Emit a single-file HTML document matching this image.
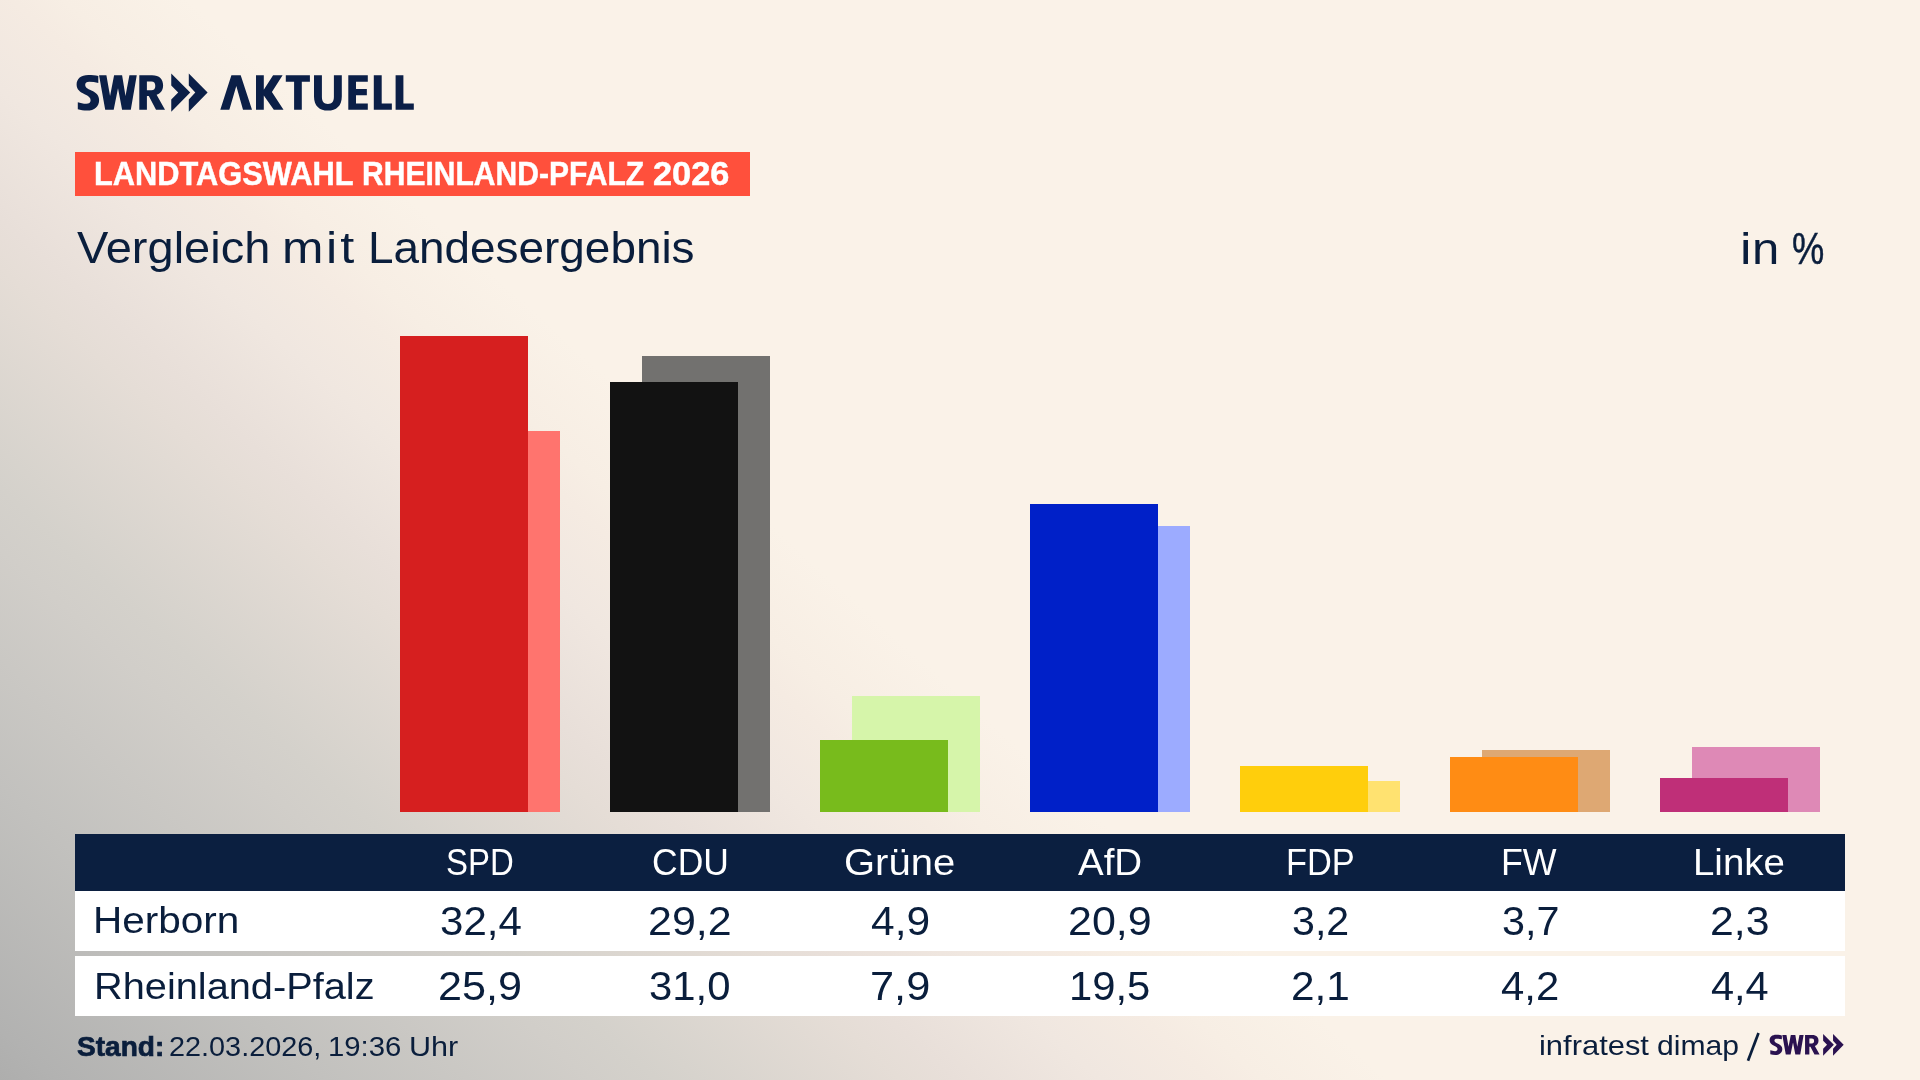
<!DOCTYPE html>
<html lang="de">
<head>
<meta charset="utf-8">
<title>SWR Aktuell – Landtagswahl Rheinland-Pfalz 2026 – Vergleich mit Landesergebnis</title>
<style>
  html, body { margin: 0; padding: 0; }
  body {
    width: 1920px; height: 1080px; overflow: hidden; position: relative;
    font-family: "Liberation Sans", sans-serif;
    color: #0a1e3c;
    background: linear-gradient(42deg,
      #aeaead 0px,
      #b2b2b1 38px,
      #c2c1be 219px,
      #d1cec9 395px,
      #d4d1cb 440px,
      #e5ddd6 603px,
      #e8dfd9 640px,
      #f0e7e0 737px,
      #f5ebe2 811px,
      #f7eee4 845px,
      #faf2e8 929px,
      #faf2e8 100%);
  }
  .box { position: absolute; }
  .bar { position: absolute; width: 128px; }
  .w { position: absolute; white-space: nowrap; line-height: 1; transform-origin: 0 0; display: block; }
  #txt { position: absolute; left: 0; top: 0; width: 1920px; height: 1080px; will-change: transform; }
  svg { position: absolute; left: 0; top: 0; overflow: visible; }
  #banner { left: 75px; top: 152px; width: 675px; height: 44.4px; background: #ff503c; }
  #thead { left: 75px; top: 834px; width: 1770px; height: 57px; background: #0b1f40; }
  #row1  { left: 75px; top: 891px; width: 1770px; height: 60px; background: #ffffff; }
  #row2  { left: 75px; top: 956px; width: 1770px; height: 60px; background: #ffffff; }
</style>
</head>
<body>

<!-- logo: SWR>> AKTUELL -->
<svg width="1920" height="1080" viewBox="0 0 1920 1080" aria-label="SWR Aktuell">
  <g fill="#0b1f47" color="#0b1f47">

    <path d="M98.3 76 C95.4 75.2 92 74.9 88.3 74.9 C81 74.9 76.6 78.6 76.6 84.6 C76.6 89.6 79.8 92 84.6 94.2 C88.6 96 90.6 97.4 90.6 100.2 C90.6 102.6 89 103.8 86.3 103.8 C83.2 103.8 80.3 103.2 77.8 102.3 L77.8 109.3 C80.5 110.2 83.6 110.6 87 110.6 C94.5 110.6 99.1 106.6 99.1 100.2 C99.1 95.4 96.2 92.8 91.4 90.6 C87.2 88.7 85.2 87.5 85.2 84.8 C85.2 82.7 86.6 81.7 89.2 81.7 C92.3 81.7 95.4 82.1 98.3 82.9 Z"/>
    <polygon points="99.06,75.3 106.4,75.3 110.06,96.1 114.1,75.3 122.1,75.3 125.5,96.1 129.4,75.3 136.75,75.3 130.8,109.8 122.1,109.8 118,88.3 113.7,109.8 105.2,109.8"/>
    <path fill-rule="evenodd" d="M139.3 75.3 H152 C159.5 75.3 163.1 79.3 163.1 85.4 C163.1 90.2 160.5 93.3 156.6 94.7 L165 109.8 H156 L148.8 96 H146.9 V109.8 H139.3 Z M146.9 81.6 V90.2 H151.3 C154 90.2 155.3 88.6 155.3 85.9 C155.3 83.1 154 81.6 151.3 81.6 Z"/>
    <polygon points="171.25,73.6 190.2,92.6 171.25,111.75 171.25,99.5 178.2,92.6 171.25,85.6"/>
    <polygon points="188.8,73.6 207.6,92.6 188.8,111.75 188.8,99.5 195.3,92.6 188.8,85.6"/>

    <polygon points="220.3,109.8 231.4,75.3 240.7,75.3 252,109.8 243,109.8 236.3,86.05 229.35,109.8"/>
    <polygon points="256,75.3 263.8,75.3 263.8,89.8 273.1,75.3 282.6,75.3 271.9,92.1 283.5,109.8 273.8,109.8 263.8,95.4 263.8,109.8 256,109.8"/>
    <polygon points="285.8,75.3 309.9,75.3 309.9,81.7 301.8,81.7 301.8,109.8 294.1,109.8 294.1,81.7 285.8,81.7"/>
    <path d="M314 75.3 V96.5 C314 106 319.5 110.6 327.9 110.6 C336.3 110.6 341.8 106 341.8 96.5 V75.3 H333.9 V97 C333.9 101.5 331.8 103.9 327.9 103.9 C324 103.9 321.9 101.5 321.9 97 V75.3 Z"/>
    <polygon points="348.3,75.3 367.8,75.3 367.8,81.7 356,81.7 356,89.1 366.85,89.1 366.85,95.3 356,95.3 356,103.4 367.8,103.4 367.8,109.8 348.3,109.8"/>
    <polygon points="373.8,75.3 381.7,75.3 381.7,103.4 391.85,103.4 391.85,109.8 373.8,109.8"/>
    <polygon points="395.6,75.3 403.4,75.3 403.4,103.4 413.8,103.4 413.8,109.8 395.6,109.8"/>
  </g>
  <!-- footer logo -->
  <g fill="#2a1250" color="#2a1250" transform="translate(1769.6 1034.8) scale(0.5655) translate(-76.6 -74.9)">

    <path d="M98.3 76 C95.4 75.2 92 74.9 88.3 74.9 C81 74.9 76.6 78.6 76.6 84.6 C76.6 89.6 79.8 92 84.6 94.2 C88.6 96 90.6 97.4 90.6 100.2 C90.6 102.6 89 103.8 86.3 103.8 C83.2 103.8 80.3 103.2 77.8 102.3 L77.8 109.3 C80.5 110.2 83.6 110.6 87 110.6 C94.5 110.6 99.1 106.6 99.1 100.2 C99.1 95.4 96.2 92.8 91.4 90.6 C87.2 88.7 85.2 87.5 85.2 84.8 C85.2 82.7 86.6 81.7 89.2 81.7 C92.3 81.7 95.4 82.1 98.3 82.9 Z"/>
    <polygon points="99.06,75.3 106.4,75.3 110.06,96.1 114.1,75.3 122.1,75.3 125.5,96.1 129.4,75.3 136.75,75.3 130.8,109.8 122.1,109.8 118,88.3 113.7,109.8 105.2,109.8"/>
    <path fill-rule="evenodd" d="M139.3 75.3 H152 C159.5 75.3 163.1 79.3 163.1 85.4 C163.1 90.2 160.5 93.3 156.6 94.7 L165 109.8 H156 L148.8 96 H146.9 V109.8 H139.3 Z M146.9 81.6 V90.2 H151.3 C154 90.2 155.3 88.6 155.3 85.9 C155.3 83.1 154 81.6 151.3 81.6 Z"/>
    <polygon points="171.25,73.6 190.2,92.6 171.25,111.75 171.25,99.5 178.2,92.6 171.25,85.6"/>
    <polygon points="188.8,73.6 207.6,92.6 188.8,111.75 188.8,99.5 195.3,92.6 188.8,85.6"/>
  </g>
  <line x1="1748" y1="1060.8" x2="1758.5" y2="1032.9" stroke="#0a1e3c" stroke-width="2.7"/>
</svg>

<!-- banner + titles -->
<div class="box" id="banner"></div>

<!-- bars: back = Rheinland-Pfalz, front = Herborn -->
<div class="bar" style="left:432px;top:431px;height:381px;background:#ff746e"></div>
<div class="bar" style="left:400px;top:336px;height:476px;background:#d61f1f"></div>
<div class="bar" style="left:642px;top:356px;height:456px;background:#72716f"></div>
<div class="bar" style="left:610px;top:382px;height:430px;background:#121212"></div>
<div class="bar" style="left:852px;top:696px;height:116px;background:#d6f5aa"></div>
<div class="bar" style="left:820px;top:740px;height:72px;background:#78bb1c"></div>
<div class="bar" style="left:1062px;top:526px;height:286px;background:#9cabff"></div>
<div class="bar" style="left:1030px;top:504px;height:308px;background:#0020c8"></div>
<div class="bar" style="left:1272px;top:781px;height:31px;background:#ffe270"></div>
<div class="bar" style="left:1240px;top:766px;height:46px;background:#ffce0c"></div>
<div class="bar" style="left:1482px;top:750px;height:62px;background:#dea873"></div>
<div class="bar" style="left:1450px;top:757px;height:55px;background:#ff8c14"></div>
<div class="bar" style="left:1692px;top:747px;height:65px;background:#de89b6"></div>
<div class="bar" style="left:1660px;top:778px;height:34px;background:#bf2f78"></div>

<!-- table -->
<div class="box" id="thead"></div>
<div class="box" id="row1"></div>
<div class="box" id="row2"></div>

<!-- text -->
<div id="txt">
<span class="w" style="left:93.71px;top:158px;font-size:32.6px;font-weight:bold;color:#ffffff;-webkit-text-stroke:0.45px #fff;transform:scaleX(0.9456)">LANDTAGSWAHL</span>
<span class="w" style="left:362.06px;top:158px;font-size:32.6px;font-weight:bold;color:#ffffff;-webkit-text-stroke:0.45px #fff;transform:scaleX(0.9223)">RHEINLAND-PFALZ</span>
<span class="w" style="left:652.7px;top:158px;font-size:32.6px;font-weight:bold;color:#ffffff;-webkit-text-stroke:0.45px #fff;transform:scaleX(1.0539)">2026</span>
<span class="w" style="left:76.5px;top:225.35px;font-size:44.8px;transform:scaleX(1.0487)">Vergleich</span>
<span class="w" style="left:281.53px;top:225.35px;font-size:44.8px;transform:scaleX(1.1106)">m</span>
<span class="w" style="left:326.22px;top:225.35px;font-size:44.8px;letter-spacing:2.8px;transform:scaleX(1.1252)">it</span>
<span class="w" style="left:368.18px;top:225.35px;font-size:44.8px;transform:scaleX(1.0243)">Landesergebnis</span>
<span class="w" style="left:1739.55px;top:225.5px;font-size:44.8px;transform:scaleX(1.1500)">i</span>
<span class="w" style="left:1752.01px;top:225.5px;font-size:44.8px;transform:scaleX(1.0950)">n</span>
<span class="w" style="left:1792.39px;top:225.5px;font-size:44.8px;-webkit-text-stroke:0.45px #0a1e3c;transform:scaleX(0.8105)">%</span>
<span class="w" style="left:446.32px;top:844.05px;font-size:37.3px;color:#ffffff;transform:scaleX(0.8829)">SPD</span>
<span class="w" style="left:651.55px;top:844.05px;font-size:37.3px;color:#ffffff;transform:scaleX(0.9516)">CDU</span>
<span class="w" style="left:844.23px;top:844.05px;font-size:37.3px;color:#ffffff;transform:scaleX(1.0724)">Grüne</span>
<span class="w" style="left:1077.8px;top:844.05px;font-size:37.3px;color:#ffffff;transform:scaleX(1.0320)">AfD</span>
<span class="w" style="left:1285.73px;top:844.05px;font-size:37.3px;color:#ffffff;transform:scaleX(0.9223)">FDP</span>
<span class="w" style="left:1501.42px;top:844.05px;font-size:37.3px;color:#ffffff;transform:scaleX(0.9591)">FW</span>
<span class="w" style="left:1693.41px;top:844.05px;font-size:37.3px;color:#ffffff;transform:scaleX(1.0302)">Linke</span>
<span class="w" style="left:93.46px;top:902.15px;font-size:37.5px;transform:scaleX(1.0802)">Herborn</span>
<span class="w" style="left:93.82px;top:967.65px;font-size:37.5px;transform:scaleX(1.0597)">Rheinland-Pfalz</span>
<span class="w" style="left:76.5px;top:1033.15px;font-size:27.2px;font-weight:bold;-webkit-text-stroke:0.7px #0a1e3c;transform:scaleX(1.0324)">Stand:</span>
<span class="w" style="left:169.14px;top:1033.15px;font-size:27.2px;transform:scaleX(1.0605)">22.03.2026,</span>
<span class="w" style="left:328.04px;top:1033.15px;font-size:27.2px;transform:scaleX(1.0783)">19:36</span>
<span class="w" style="left:408.85px;top:1033.15px;font-size:27.2px;transform:scaleX(1.1232)">Uhr</span>
<span class="w" style="left:1538.8px;top:1032.2px;font-size:28px;transform:scaleX(1.1040)">infratest</span>
<span class="w" style="left:1656.52px;top:1032.2px;font-size:28px;transform:scaleX(1.0751)">dimap</span>
<span class="w" style="left:440.07px;top:901px;font-size:41px;transform:scaleX(1.0257)">32,4</span>
<span class="w" style="left:647.6px;top:901px;font-size:41px;transform:scaleX(1.0487)">29,2</span>
<span class="w" style="left:870.9px;top:901px;font-size:41px;transform:scaleX(1.0364)">4,9</span>
<span class="w" style="left:1067.6px;top:901px;font-size:41px;transform:scaleX(1.0487)">20,9</span>
<span class="w" style="left:1291.8px;top:901px;font-size:41px;transform:scaleX(1.0038)">3,2</span>
<span class="w" style="left:1502.19px;top:901px;font-size:41px;transform:scaleX(1.0075)">3,7</span>
<span class="w" style="left:1709.61px;top:901px;font-size:41px;transform:scaleX(1.0434)">2,3</span>
<span class="w" style="left:437.89px;top:966px;font-size:41px;transform:scaleX(1.0527)">25,9</span>
<span class="w" style="left:648.98px;top:966px;font-size:41px;transform:scaleX(1.0219)">31,0</span>
<span class="w" style="left:869.79px;top:966px;font-size:41px;transform:scaleX(1.0565)">7,9</span>
<span class="w" style="left:1068.54px;top:966px;font-size:41px;transform:scaleX(1.0185)">19,5</span>
<span class="w" style="left:1290.73px;top:966px;font-size:41px;transform:scaleX(1.0330)">2,1</span>
<span class="w" style="left:1500.9px;top:966px;font-size:41px;transform:scaleX(1.0201)">4,2</span>
<span class="w" style="left:1711.1px;top:966px;font-size:41px;transform:scaleX(1.0126)">4,4</span>

</div>

</body>
</html>
